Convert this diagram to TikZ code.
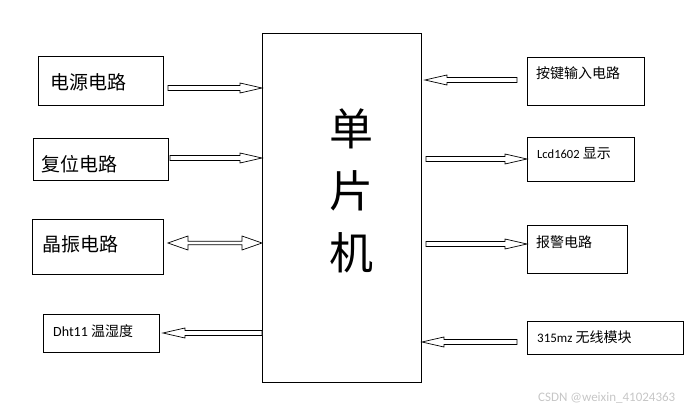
\documentclass[tikz,border=0pt]{standalone}
\usepackage{fontspec}
\setmainfont{Carlito}
\newfontfamily\cjk{Noto Sans CJK SC}
\usetikzlibrary{positioning,calc}

\tikzset{
  box/.style={draw, line width=0.9pt, anchor=north west, inner sep=0pt},
  lblL/.style={font=\cjk\fontsize{19}{22}\selectfont, inner sep=0pt, anchor=west},
  lblR/.style={font=\cjk\fontsize{14}{16}\selectfont, inner sep=0pt, anchor=west},
  fat/.style={line width=0.7pt, fill=white, to path={
    let \p1=(\tikztostart), \p2=(\tikztotarget), \n1={ifthenelse(\x2>\x1,1,-1)} in
    (\x1,\y1+2.5pt) -- (\x2-\n1*22pt,\y1+2.5pt) -- (\x2-\n1*22pt,\y1+5pt) -- (\x2,\y1)
    -- (\x2-\n1*22pt,\y1-5pt) -- (\x2-\n1*22pt,\y1-2.5pt) -- (\x1,\y1-2.5pt) -- cycle}},
  fatboth/.style={line width=0.7pt, fill=white, to path={
    let \p1=(\tikztostart), \p2=(\tikztotarget), \n1={ifthenelse(\x2>\x1,1,-1)} in
    (\x1,\y1) -- (\x1+\n1*20pt,\y1+7pt) -- (\x1+\n1*20pt,\y1+1.8pt) -- (\x2-\n1*20pt,\y1+1.8pt)
    -- (\x2-\n1*20pt,\y1+7pt) -- (\x2,\y1) -- (\x2-\n1*20pt,\y1-7pt) -- (\x2-\n1*20pt,\y1-1.8pt)
    -- (\x1+\n1*20pt,\y1-1.8pt) -- (\x1+\n1*20pt,\y1-7pt) -- cycle}}
}

\begin{document}
\begin{tikzpicture}[x=1pt, y=-1pt]
\useasboundingbox (0,0) rectangle (700,411);

% MCU in the middle %
\node[box, minimum width=159pt, minimum height=349pt] (mcu) at (262,33) {};
\node[font=\cjk\fontsize{44}{62}\selectfont, align=center] (mcuT) at (351,191) {单\\片\\机};

% Left column %
\node[box, minimum width=125pt, minimum height=49pt] (psu) at (38,56) {};
\node[lblL] (psuT) at (50,82) {电源电路};
\node[box, minimum width=135pt, minimum height=42pt] (rst) at (33,138) {};
\node[lblL] (rstT) at (41,164) {复位电路};
\node[box, minimum width=131pt, minimum height=55pt] (osc) at (32,219) {};
\node[lblL] (oscT) at (42,244) {晶振电路};
\node[box, minimum width=116pt, minimum height=38pt] (dht) at (43,314) {};
\node[lblR] (dhtT) at (53,331) {{\rmfamily\fontsize{14}{16}\selectfont Dht11} 温湿度};

% Right column %
\node[box, minimum width=117pt, minimum height=48pt] (key) at (527,57) {};
\node[lblR] (keyT) at (536,73) {按键输入电路};
\node[box, minimum width=107pt, minimum height=44pt] (lcd) at (527,137) {};
\node[lblR] (lcdT) at (537,154) {{\rmfamily\fontsize{12.5}{14}\selectfont Lcd1602} 显示};
\node[box, minimum width=100pt, minimum height=48pt] (alm) at (527,225) {};
\node[lblR] (almT) at (536,242) {报警电路};
\node[box, minimum width=156pt, minimum height=33pt] (rf) at (527,321) {};
\node[lblR] (rfT) at (537,337) {{\rmfamily\fontsize{13}{15}\selectfont 315mz} 无线模块};

% Arrows left %
\draw[fat] ($(psu.east |- 0,88)+(4,0)$) to (mcu.west |- 0,88);
\draw[fat] ($(rst.east |- 0,158)+(1,0)$) to (mcu.west |- 0,158);
\draw[fatboth] ($(osc.east |- 0,243)+(4,0)$) to (mcu.west |- 0,243);
\draw[fat] (mcu.west |- 0,333) to ($(dht.east |- 0,333)+(3,0)$);

% Arrows right %
\draw[fat] ($(key.west |- 0,80)+(-10,0)$) to ($(mcu.east |- 0,80)+(3,0)$);
\draw[fat] ($(mcu.east |- 0,159)+(4,0)$) to (lcd.west |- 0,159);
\draw[fat] ($(mcu.east |- 0,244)+(4,0)$) to (alm.west |- 0,244);
\draw[fat] ($(rf.west |- 0,342)+(-10,0)$) to (mcu.east |- 0,342);

\node[font=\fontsize{13}{14}\selectfont, text=gray!45, anchor=west, inner sep=0pt] (mark) at (538,398) {CSDN @weixin\_41024363};
\end{tikzpicture}
\end{document}
